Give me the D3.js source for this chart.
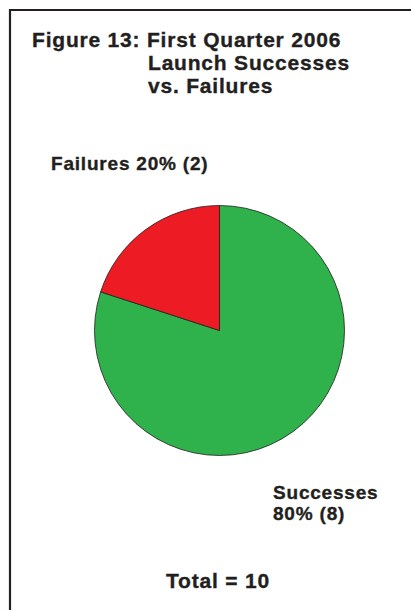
<!DOCTYPE html>
<html>
<head>
<meta charset="utf-8">
<script src="https://cdn.jsdelivr.net/npm/d3@7"></script>
<style>
  body { margin: 0; background: #fff; }
  text { font-family: "Liberation Sans", Arial, sans-serif; font-weight: bold; fill: #231f20; stroke: #231f20; stroke-width: 0.35px; }
</style>
</head>
<body>
<div id="chart"></div>
<script>
// Chart data
const categories = ['Successes', 'Failures'];
const counts = [8, 2];
const colors = ['#2fb14b', '#ed1c24'];
const titleLines = ['Figure 13: First Quarter 2006', 'Launch Successes', 'vs. Failures'];

const width = 411, height = 610;
const total = d3.sum(counts);

const svg = d3.select('#chart')
  .append('svg')
  .attr('width', width)
  .attr('height', height);

// Frame (only left and top edges show)
svg.append('path')
  .attr('d', `M10,${height} L10,10 L${width},10`)
  .attr('fill', 'none')
  .attr('stroke', '#231f20')
  .attr('stroke-width', 2.2);

// Title
const titleX = [32, 148, 148];
const titleY = [47, 70, 93];
titleLines.forEach((t, i) => {
  svg.append('text')
    .attr('x', titleX[i])
    .attr('y', titleY[i])
    .style('font-size', '21px')
    .style('letter-spacing', '0.8px')
    .text(t);
});

// Pie
const data = categories.map((c, i) => ({ name: c, value: counts[i], color: colors[i] }));
const pie = d3.pie().value(d => d.value).sort(null);
const arc = d3.arc().innerRadius(0).outerRadius(125);

const g = svg.append('g').attr('transform', 'translate(219.5,330.5)');
g.selectAll('path')
  .data(pie(data))
  .enter()
  .append('path')
  .attr('d', arc)
  .attr('fill', d => d.data.color)
  .attr('stroke', '#231f20')
  .attr('stroke-width', 0.8);

const pct = d => Math.round(d.value / total * 100) + '% (' + d.value + ')';

// Slice labels
const label = (x, y, txt) => svg.append('text')
  .attr('x', x).attr('y', y)
  .style('font-size', '19px')
  .style('letter-spacing', '0.8px')
  .text(txt);

label(51, 170, `${data[1].name} ${pct(data[1])}`);
label(273, 499, data[0].name);
label(273, 520, pct(data[0]));

// Total
svg.append('text').attr('x', 218).attr('y', 588).attr('text-anchor', 'middle')
  .style('font-size', '21px')
  .style('letter-spacing', '0.8px')
  .text(`Total = ${total}`);
</script>
</body>
</html>
